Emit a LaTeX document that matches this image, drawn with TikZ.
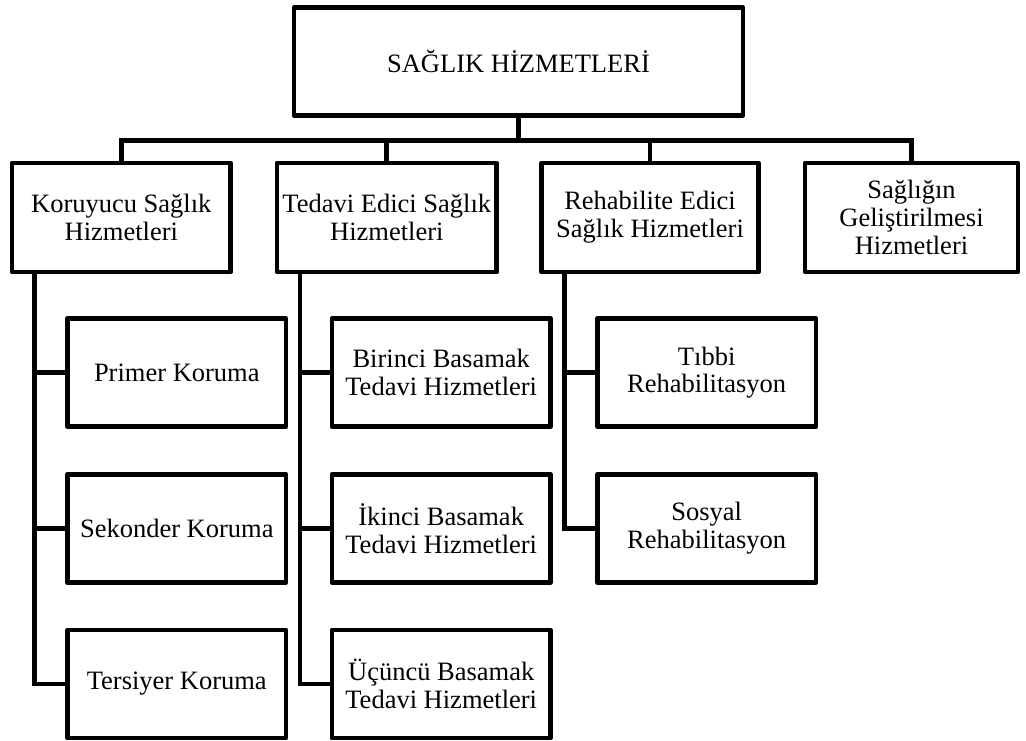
\documentclass[tikz,border=0pt]{standalone}
\usepackage{fontspec}
\setmainfont{Liberation Serif}
\begin{document}
\begin{tikzpicture}[x=1pt,y=1pt,
  box/.style={draw=black,line width=4.8pt,line join=round,fill=white,inner sep=0pt,align=center,
    font=\fontsize{26.5}{27.8}\selectfont},
  l1box/.style={box,minimum height=109pt},
  l2box/.style={box,minimum width=218.5pt,minimum height=108pt},
  conn/.style={draw=black,line width=4.8pt,line join=miter}]
\useasboundingbox (0,0) rectangle (1026,-740);
\fill[white] (0,0) rectangle (1026,-740);
% top
\node[box,minimum width=449pt,minimum height=108pt] (top) at (518.5,-61.5) {SAĞLIK HİZMETLERİ};
% level 1
\node[l1box,minimum width=218.7pt] (k1) at (121.3,-217.5) {Koruyucu Sağlık\\Hizmetleri};
\node[l1box,minimum width=219.7pt] (k2) at (386.8,-217.5) {Tedavi Edici Sağlık\\Hizmetleri};
\node[l1box,minimum width=216.6pt] (k3) at (650,-217.5) {Rehabilite Edici\\Sağlık Hizmetleri};
\node[l1box,minimum width=213pt] (k4) at (911.5,-217.5) {Sağlığın\\Geliştirilmesi\\Hizmetleri};
% level 2
\node[l2box] (p1) at (176.8,-372.6) {Primer Koruma};
\node[l2box] (p2) at (176.8,-528.3) {Sekonder Koruma};
\node[l2box] (p3) at (176.8,-684) {Tersiyer Koruma};
\node[l2box] (t1) at (441.2,-372.6) {Birinci Basamak\\Tedavi Hizmetleri};
\node[l2box] (t2) at (441.2,-528.3) {İkinci Basamak\\Tedavi Hizmetleri};
\node[l2box] (t3) at (441.2,-684) {Üçüncü Basamak\\Tedavi Hizmetleri};
\node[l2box] (r1) at (706.7,-372.6) {Tıbbi\\Rehabilitasyon};
\node[l2box] (r2) at (706.7,-528.3) {Sosyal\\Rehabilitasyon};
% coordinates
\coordinate (bus) at (0,-140.5);
\coordinate (v1) at (34.3,0);
\coordinate (v2) at (300,0);
\coordinate (v3) at (564.3,0);
% top connectors
\path[conn] (top.south) -- (top.south |- bus);
\path[conn] (k1.north) -- (k1.north |- bus) -- (k4.north |- bus) -- (k4.north);
\path[conn] (k2.north |- bus) -- (k2.north);
\path[conn] (k3.north |- bus) -- (k3.north);
% level 2 connectors
\path[conn] (v1 |- k1.south) |- (p3.west);
\path[conn] (v1 |- p1.west) -- (p1.west);
\path[conn] (v1 |- p2.west) -- (p2.west);
\path[conn] (v2 |- k2.south) |- (t3.west);
\path[conn] (v2 |- t1.west) -- (t1.west);
\path[conn] (v2 |- t2.west) -- (t2.west);
\path[conn] (v3 |- k3.south) |- (r2.west);
\path[conn] (v3 |- r1.west) -- (r1.west);
\end{tikzpicture}
\end{document}
